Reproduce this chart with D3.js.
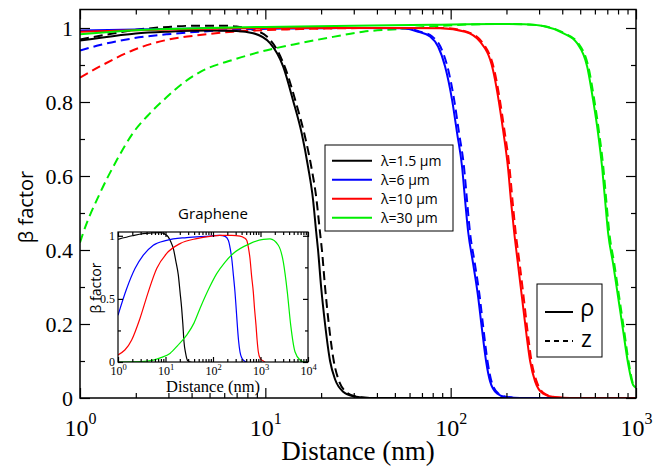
<!DOCTYPE html>
<html>
<head>
<meta charset="utf-8">
<script src="https://cdn.jsdelivr.net/npm/d3@7"></script>
<style>
body { margin: 0; background: #fff; }
</style>
</head>
<body>
<svg id="drawing-area" width="672" height="467"></svg>
<script>
// legend entries and colours
var names = ["λ=1.5 μm", "λ=6 μm", "λ=10 μm", "λ=30 μm"];
var colors = ["#000000", "#0000ff", "#ff0000", "#00ee00"];

// main plot, rho (solid) and z (dashed), x in nm
var rho15X = [1,1.5,2,3,5,7,8.6,10.6,12.5,14.1,15.7,17,18.1,18.8,19.25,20,21,22.35,23.8,26.3,29.7,36.7,1000];
var rho15Y = [.966,.978,.985,.99,.993,.992,.986,.959,.895,.805,.716,.625,.535,.45,.40,.30,.20,.10,.05,.017,.005,0,0];
var z15X = [1,1.5,2,3,4,6,7,8.6,10.2,11.6,13.1,14.5,16.2,17.7,18.9,19.7,20.2,21,22,23.4,24.8,27.2,30.5,37,1000];
var z15Y = [.969,.985,.995,1.003,1.006,1.006,1.004,.995,.977,.94,.878,.805,.716,.625,.535,.45,.40,.30,.20,.10,.05,.017,.005,0,0];

var rho6X = [1,2,5,10,30,55,66.7,77.4,85.5,93.3,101.8,108.3,115.2,119.6,124.2,132.1,140.6,147.7,155.2,163.2,178,196.6,236.9,1000];
var rho6Y = [.993,.996,.999,1,1,.999,.99,.977,.95,.896,.805,.716,.625,.535,.45,.364,.274,.184,.10,.045,.012,.003,0,0];
var z6X = [1,1.28,1.93,2.95,4.44,6.7,15,40,57,68.5,79.5,88,96,104.5,111,118,122.5,127,135,143.5,150.5,158,166,181,200,240,1000];
var z6Y = [.939,.954,.972,.983,.99,.995,.999,1,.999,.99,.977,.95,.896,.805,.716,.625,.535,.45,.364,.274,.184,.10,.045,.012,.003,0,0];

var rho10X = [1,2,5,10,50,87.7,119.6,144.1,169.3,191.8,204.1,211.8,219.9,231,242.8,255.2,268.3,285.4,315.3,365.9,441,1000];
var rho10Y = [.99,.994,.998,1,1,.999,.99,.963,.886,.724,.62,.53,.45,.36,.27,.18,.10,.045,.012,.002,0,0];
var z10X = [1,1.28,1.93,2.95,4.44,6.7,15.4,40,90,122,147,172,195,208,216,224,236,248,260,273,291,321,372,448,1000];
var z10Y = [.866,.896,.94,.968,.981,.99,.997,1,1,.99,.963,.886,.724,.62,.53,.45,.36,.27,.18,.10,.045,.012,.002,0,0];

var rho30X = [1,1.5,2,3,5,10,30,80,178,250,320,404,481,545,587,624,656,681,707,752,800,851,906,965,1000];
var rho30Y = [.983,.99,.994,.997,1,1.003,1.006,1.009,1.011,1.01,1.005,.986,.959,.896,.805,.716,.625,.535,.446,.364,.274,.184,.094,.035,.028];
var z30X = [1,1.04,1.28,1.58,1.93,2.39,2.95,3.6,4.44,6.7,10.2,15.4,23.2,33.7,51.4,77.4,178,250,320,410,488,553,596,633,666,691,718,763,811,862,915,970,1000];
var z30Y = [.42,.446,.553,.643,.716,.77,.814,.851,.881,.914,.94,.959,.976,.99,.997,1.004,1.011,1.01,1.005,.986,.959,.896,.805,.716,.625,.535,.446,.364,.274,.184,.094,.035,.028];

// inset: graphene
var gr15X = [1,2,3.4,5,7.66,9.5,11.5,13,14.6,16.5,18.6,20.3,21.9,23.2,24.5,26.5,28.8,32,35];
var gr15Y = [.972,1,1.017,1.022,1.025,1.015,.99,.95,.9,.8,.69,.55,.425,.3,.16,.07,.015,.002,0];
var gr6X = [1,1.52,2.28,3.41,5.53,10.6,27.9,86.5,140,180,210,230,248,270,290,308,325,345,370,400,435,480,520];
var gr6Y = [.37,.58,.74,.846,.925,.964,.986,.998,1.004,.995,.964,.9,.82,.68,.556,.42,.292,.17,.081,.035,.016,.003,0];
var gr10X = [1,1.94,2.9,4.35,6.53,10.6,20.2,45.4,86.5,140,250,370,450,512,560,601,650,705,750,804,850,899,980,1146,1250];
var gr10Y = [.055,.174,.345,.556,.74,.86,.938,.978,.996,1.003,1.003,.998,.985,.964,.9,.82,.68,.556,.42,.292,.17,.081,.03,.008,0];
var gr30X = [1,3,5.5,8,12.4,18,27.9,40,53.2,86.5,119.6,178,267,601,1146,1585,2371,3020,3664,4325,5320,6790,8650,10000];
var gr30Y = [0,.003,.015,.035,.068,.13,.213,.31,.424,.60,.70,.79,.86,.938,.972,.975,.925,.793,.556,.292,.081,.016,0,0];

// tick values / labels
var xExp = [0, 1, 2, 3];
var yTicks = [0, 0.2, 0.4, 0.6, 0.8, 1];
var yLabels = ["0", "0.2", "0.4", "0.6", "0.8", "1"];
var yMinor = [0.1, 0.3, 0.5, 0.7, 0.9];
var inExp = [0, 1, 2, 3, 4];
var inYTicks = [0, 0.5, 1];
var inYLabels = ["0", "0.5", "1"];
var inYMinor = [0.25, 0.75];

var serif = "'Liberation Serif','Times New Roman',serif";
var sans = "'Open Sans','DejaVu Sans',sans-serif";

var svg = d3.select("#drawing-area");

function minorLog(exps) {
    var out = [];
    for (var i = 0; i < exps.length - 1; i++)
        for (var k = 2; k <= 9; k++) out.push(k * Math.pow(10, exps[i]));
    return out;
}

// ticks pointing inward on all four sides
function inTicks(g, xs, ys, xMaj, xMin, yMaj, yMin, big, small) {
    var l = xs.range()[0], r = xs.range()[1], b = ys.range()[0], t = ys.range()[1];
    var specs = [
        [d3.axisBottom, xs, 0, b], [d3.axisTop, xs, 0, t],
        [d3.axisLeft, ys, l, 0], [d3.axisRight, ys, r, 0]
    ];
    specs.forEach(function(s, i) {
        var maj = i < 2 ? xMaj : yMaj, mn = i < 2 ? xMin : yMin;
        [[maj, big], [mn, small]].forEach(function(p) {
            var a = g.append("g")
                .attr("transform", "translate(" + s[2] + "," + s[3] + ")")
                .call(s[0](s[1]).tickValues(p[0]).tickSize(-p[1]).tickFormat(""));
            a.select(".domain").remove();
            a.selectAll("line").attr("stroke", "#000").attr("stroke-width", 1.2);
        });
    });
}

// ---------- main plot ----------
var x = d3.scaleLog().domain([1, 1000]).range([80, 636]);
var y = d3.scaleLinear().domain([0, 1.05]).range([398, 9.5]);

svg.append("clipPath").attr("id", "clipMain")
   .append("rect").attr("x", 80).attr("y", 9.5).attr("width", 556).attr("height", 388.5);

var line = d3.line()
    .x(function(d){ return x(d[0]); })
    .y(function(d){ return y(d[1]); })
    .curve(d3.curveMonotoneX);

var mainSeries = [
    { xs: z15X, ys: z15Y, c: 0, dash: true },
    { xs: z6X, ys: z6Y, c: 1, dash: true },
    { xs: z10X, ys: z10Y, c: 2, dash: true },
    { xs: z30X, ys: z30Y, c: 3, dash: true },
    { xs: rho15X, ys: rho15Y, c: 0, dash: false },
    { xs: rho6X, ys: rho6Y, c: 1, dash: false },
    { xs: rho10X, ys: rho10Y, c: 2, dash: false },
    { xs: rho30X, ys: rho30Y, c: 3, dash: false }
];

svg.append("g").attr("clip-path", "url(#clipMain)")
   .selectAll("path")
   .data(mainSeries)
   .enter()
   .append("path")
   .attr("d", function(s){ return line(d3.zip(s.xs, s.ys)); })
   .attr("fill", "none")
   .attr("stroke", function(s){ return colors[s.c]; })
   .attr("stroke-width", 2)
   .attr("stroke-dasharray", function(s){ return s.dash ? "9,5" : null; });

inTicks(svg, x, y, xExp.map(function(e){ return Math.pow(10, e); }), minorLog(xExp),
        yTicks, yMinor, 10, 5);

svg.append("rect")
   .attr("x", 80).attr("y", 9.5).attr("width", 556).attr("height", 388.5)
   .attr("fill", "none").attr("stroke", "#000").attr("stroke-width", 1.5);

// y tick labels
var yAx = svg.append("g").attr("transform", "translate(80,0)")
    .call(d3.axisLeft(y).tickValues(yTicks).tickSize(0).tickPadding(7)
          .tickFormat(function(d, i){ return yLabels[i]; }));
yAx.select(".domain").remove();
yAx.selectAll("text").attr("font-family", serif).attr("font-size", 22).attr("fill", "#000");

// x tick labels 10^n
var xAx = svg.append("g").attr("transform", "translate(0,398)")
    .call(d3.axisBottom(x).tickValues(xExp.map(function(e){ return Math.pow(10, e); }))
          .tickSize(0).tickFormat(""));
xAx.select(".domain").remove();
xAx.selectAll("text")
   .attr("y", 38).attr("dy", null)
   .attr("font-family", serif).attr("font-size", 24).attr("fill", "#000")
   .each(function(d, i) {
       var t = d3.select(this);
       t.append("tspan").text("10");
       t.append("tspan").attr("dy", -12).attr("font-size", 16).text(xExp[i]);
   });

svg.append("text")
   .attr("x", 358).attr("y", 460)
   .attr("text-anchor", "middle")
   .attr("font-family", serif).attr("font-size", 27)
   .text("Distance (nm)");

svg.append("text")
   .attr("transform", "translate(33,207) rotate(-90)")
   .attr("text-anchor", "middle")
   .attr("font-family", sans).attr("font-size", 20)
   .text("β factor");

// ---------- legend (wavelengths) ----------
var leg = svg.append("g");
leg.append("rect").attr("x", 325).attr("y", 145).attr("width", 128).attr("height", 86)
   .attr("fill", "#fff").attr("stroke", "#000").attr("stroke-width", 1);
var items = leg.selectAll("g.item").data(names).enter().append("g")
   .attr("transform", function(d, i){ return "translate(0," + (160.7 + i * 19) + ")"; });
items.append("line").attr("x1", 332).attr("x2", 372)
   .attr("stroke", function(d, i){ return colors[i]; }).attr("stroke-width", 2);
items.append("text").attr("x", 381).attr("y", 5)
   .attr("font-family", sans).attr("font-size", 14)
   .text(function(d){ return d; });

// ---------- legend (rho / z) ----------
var leg2 = svg.append("g");
leg2.append("rect").attr("x", 537).attr("y", 284).attr("width", 65).attr("height", 73)
    .attr("fill", "#fff").attr("stroke", "#000").attr("stroke-width", 1);
leg2.append("line").attr("x1", 545).attr("x2", 573).attr("y1", 312).attr("y2", 312)
    .attr("stroke", "#000").attr("stroke-width", 2);
leg2.append("line").attr("x1", 545).attr("x2", 573).attr("y1", 341).attr("y2", 341)
    .attr("stroke", "#000").attr("stroke-width", 2).attr("stroke-dasharray", "5,4");
leg2.append("text").attr("x", 580).attr("y", 316)
    .attr("font-family", sans).attr("font-size", 24).text("ρ");
leg2.append("text").attr("x", 581).attr("y", 347)
    .attr("font-family", sans).attr("font-size", 23).text("z");

// ---------- inset ----------
var xi = d3.scaleLog().domain([1, 10000]).range([118, 308]);
var yi = d3.scaleLinear().domain([0, 1.03]).range([362, 232]);

var ins = svg.append("g");
ins.append("rect").attr("x", 118).attr("y", 232).attr("width", 190).attr("height", 130)
   .attr("fill", "#fff");

ins.append("clipPath").attr("id", "clipIn")
   .append("rect").attr("x", 118).attr("y", 232).attr("width", 190).attr("height", 130);

var lineIn = d3.line()
    .x(function(d){ return xi(d[0]); })
    .y(function(d){ return yi(d[1]); })
    .curve(d3.curveMonotoneX);

var insetSeries = [[gr15X, gr15Y], [gr6X, gr6Y], [gr10X, gr10Y], [gr30X, gr30Y]];
ins.append("g").attr("clip-path", "url(#clipIn)")
   .selectAll("path").data(insetSeries).enter().append("path")
   .attr("d", function(s){ return lineIn(d3.zip(s[0], s[1])); })
   .attr("fill", "none")
   .attr("stroke", function(s, i){ return colors[i]; })
   .attr("stroke-width", 1.2);

inTicks(ins, xi, yi, inExp.map(function(e){ return Math.pow(10, e); }), minorLog(inExp),
        inYTicks, inYMinor, 5, 3);

ins.append("rect").attr("x", 118).attr("y", 232).attr("width", 190).attr("height", 130)
   .attr("fill", "none").attr("stroke", "#000").attr("stroke-width", 1.2);

var yiAx = ins.append("g").attr("transform", "translate(118,0)")
    .call(d3.axisLeft(yi).tickValues(inYTicks).tickSize(0).tickPadding(3)
          .tickFormat(function(d, i){ return inYLabels[i]; }));
yiAx.select(".domain").remove();
yiAx.selectAll("text").attr("font-family", serif).attr("font-size", 12).attr("fill", "#000");

var xiAx = ins.append("g").attr("transform", "translate(0,362)")
    .call(d3.axisBottom(xi).tickValues(inExp.map(function(e){ return Math.pow(10, e); }))
          .tickSize(0).tickFormat(""));
xiAx.select(".domain").remove();
xiAx.selectAll("text")
   .attr("y", 13).attr("dy", null)
   .attr("font-family", serif).attr("font-size", 12).attr("fill", "#000")
   .each(function(d, i) {
       var t = d3.select(this);
       t.append("tspan").text("10");
       t.append("tspan").attr("dy", -5).attr("font-size", 8.5).text(inExp[i]);
   });

ins.append("text").attr("x", 213).attr("y", 391.5)
   .attr("text-anchor", "middle")
   .attr("font-family", serif).attr("font-size", 16.5)
   .text("Distance (nm)");

ins.append("text")
   .attr("transform", "translate(101,288) rotate(-90)")
   .attr("text-anchor", "middle")
   .attr("font-family", sans).attr("font-size", 14)
   .text("β factor");

ins.append("text").attr("x", 213).attr("y", 219)
   .attr("text-anchor", "middle")
   .attr("font-family", sans).attr("font-size", 15)
   .text("Graphene");
</script>
</body>
</html>
